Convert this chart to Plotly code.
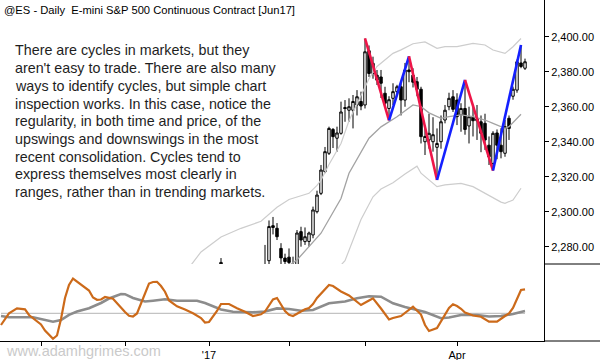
import pandas as pd
import plotly.graph_objects as go
from plotly.subplots import make_subplots

# ---------------- calendar (trading sessions) ----------------
HOLIDAYS = ["2016-11-24", "2016-12-26", "2017-01-02", "2017-01-16", "2017-02-20", "2017-04-14"]
sessions = [d.strftime("%Y-%m-%d") for d in pd.bdate_range("2016-10-18", "2017-04-27")
            if d.strftime("%Y-%m-%d") not in HOLIDAYS]

# ---------------- daily OHLC (visible part of chart) ----------------
bar_dates = ["2017-01-06", "2017-01-24", "2017-01-25", "2017-01-26", "2017-01-27", "2017-01-30",
             "2017-01-31", "2017-02-01", "2017-02-02", "2017-02-03", "2017-02-06", "2017-02-07",
             "2017-02-08", "2017-02-09", "2017-02-10", "2017-02-13", "2017-02-14", "2017-02-15",
             "2017-02-16", "2017-02-17", "2017-02-21", "2017-02-22", "2017-02-23", "2017-02-24",
             "2017-02-27", "2017-02-28", "2017-03-01", "2017-03-02", "2017-03-03", "2017-03-06",
             "2017-03-07", "2017-03-08", "2017-03-09", "2017-03-10", "2017-03-13", "2017-03-14",
             "2017-03-15", "2017-03-16", "2017-03-17", "2017-03-20", "2017-03-21", "2017-03-22",
             "2017-03-23", "2017-03-24", "2017-03-27", "2017-03-28", "2017-03-29", "2017-03-30",
             "2017-03-31", "2017-04-03", "2017-04-04", "2017-04-05", "2017-04-06", "2017-04-07",
             "2017-04-10", "2017-04-11", "2017-04-12", "2017-04-13", "2017-04-17", "2017-04-18",
             "2017-04-19", "2017-04-20", "2017-04-21", "2017-04-24", "2017-04-25", "2017-04-26",
             "2017-04-27"]
opens = [2262, 2262, 2272, 2292, 2290.5, 2279, 2273.5, 2274, 2266, 2269, 2288.6, 2282.9,
         2283, 2286.7, 2300, 2310.5, 2322.9, 2333.4, 2347, 2342, 2344.8, 2359.5, 2358, 2358,
         2361, 2363, 2361, 2392, 2379, 2378, 2377, 2367.7, 2359, 2364.8, 2368.6, 2371.4,
         2363.8, 2381, 2378, 2374.3, 2370, 2340, 2341, 2340, 2336.8, 2340, 2352.4, 2360,
         2365.7, 2363.8, 2355.3, 2359, 2349, 2354, 2352, 2351.4, 2350.5, 2338, 2327.6, 2345,
         2338, 2333.4, 2353.4, 2366, 2369.5, 2385, 2382]
highs = [2273.5, 2281, 2295, 2297, 2293.5, 2282, 2276, 2279, 2274.3, 2289.5, 2291.4, 2291,
         2288.6, 2302.9, 2312, 2326.7, 2337, 2348.6, 2347.8, 2348.6, 2362.9, 2363.8, 2364.8, 2366.7,
         2369.5, 2368.6, 2399, 2395, 2388.6, 2381, 2381, 2371.4, 2366, 2373.4, 2372.5, 2373.4,
         2385, 2388.8, 2382, 2377, 2371.4, 2347.6, 2356, 2354, 2347.6, 2355, 2361, 2368,
         2369.5, 2367.7, 2362, 2375.3, 2360, 2360, 2361, 2355, 2356, 2343, 2346, 2347,
         2347.7, 2352.4, 2355, 2371.5, 2387, 2395.3, 2387.5]
lows = [2258, 2258, 2270, 2287, 2283.8, 2266, 2262, 2266, 2260, 2265, 2280, 2281,
        2280, 2284.8, 2299, 2309.5, 2322, 2332.4, 2336.4, 2334.3, 2344, 2351.4, 2351.4, 2347.6,
        2355, 2358, 2359, 2377, 2376, 2372.4, 2365, 2360, 2352.2, 2361, 2366, 2355,
        2360, 2374, 2371, 2366, 2339, 2332.4, 2336, 2334.3, 2318.1, 2336, 2350.5, 2358,
        2357, 2349.5, 2345.7, 2344, 2339, 2343, 2341, 2334, 2335.3, 2326.7, 2323.5, 2330,
        2330.5, 2331.4, 2341, 2364, 2368, 2382, 2381]
closes = [2271, 2268, 2291.5, 2291, 2285.7, 2273.6, 2271.5, 2271, 2269, 2287.8, 2283.8, 2285.7,
          2287.8, 2301, 2309.5, 2323.8, 2334.3, 2347.6, 2342.9, 2345, 2357, 2359, 2360, 2363,
          2365.7, 2360.4, 2391.4, 2379, 2384.8, 2375.2, 2373.4, 2362, 2364, 2368.6, 2371.4, 2363.8,
          2381, 2380, 2374, 2370, 2342.9, 2343, 2344.8, 2344, 2339, 2351.4, 2358, 2364.8,
          2358.5, 2354.3, 2359, 2347, 2354.3, 2352, 2353, 2344.8, 2341, 2331.4, 2344.8, 2338,
          2334.3, 2348.6, 2347.6, 2370, 2385.7, 2383, 2385.7]

# ---------------- envelope lines ----------------
upper_dates = ["2016-12-23", "2016-12-29", "2017-01-06", "2017-01-13", "2017-01-23", "2017-01-27",
               "2017-02-01", "2017-02-06", "2017-02-08", "2017-02-10", "2017-02-13", "2017-02-15",
               "2017-02-21", "2017-02-23", "2017-02-28", "2017-03-02", "2017-03-06", "2017-03-10",
               "2017-03-14", "2017-03-17", "2017-03-22", "2017-03-27", "2017-03-29", "2017-04-03",
               "2017-04-07", "2017-04-12", "2017-04-17", "2017-04-20", "2017-04-24", "2017-04-26"]
upper_band = [2268, 2277, 2285.5, 2290.5, 2294.5, 2302.5, 2307, 2309, 2310.5, 2315, 2318, 2327,
              2339, 2352, 2367, 2376, 2383, 2390.5, 2392.5, 2396, 2397, 2393.4, 2394.3, 2394.3,
              2396.2, 2395.3, 2392.4, 2390.5, 2394.3, 2399]
mid_dates = ["2017-01-30", "2017-02-03", "2017-02-13", "2017-02-21", "2017-02-23", "2017-02-28",
             "2017-03-02", "2017-03-07", "2017-03-13", "2017-03-17", "2017-03-21", "2017-03-23",
             "2017-03-28", "2017-03-30", "2017-04-04", "2017-04-07", "2017-04-12", "2017-04-17",
             "2017-04-20", "2017-04-21", "2017-04-25", "2017-04-26"]
mid_line = [2266, 2272.4, 2287.7, 2307.5, 2322, 2334, 2342, 2348.5, 2354.3, 2361, 2360, 2356.5,
            2353.3, 2354.3, 2355.3, 2354.3, 2352.4, 2350.5, 2347.6, 2348.6, 2353.3, 2355.7]
lower_dates = ["2017-02-15", "2017-02-22", "2017-02-28", "2017-03-03", "2017-03-07", "2017-03-10",
               "2017-03-15", "2017-03-20", "2017-03-21", "2017-03-27", "2017-03-29", "2017-04-04",
               "2017-04-07", "2017-04-12", "2017-04-19", "2017-04-20", "2017-04-24", "2017-04-26"]
lower_band = [2262, 2272, 2295.5, 2308.5, 2313, 2316.5, 2321.5, 2326, 2322, 2314.3, 2315.3, 2316.2,
              2314.3, 2310.5, 2305.5, 2304.8, 2306.7, 2313.4]

# ---------------- swing points (alternating high / low) ----------------
swing_dates = ["2017-03-01", "2017-03-09", "2017-03-16", "2017-03-27", "2017-04-05", "2017-04-17", "2017-04-26"]

# ---------------- lower panel oscillator ----------------
osc_dates = ["2016-10-18", "2016-10-20", "2016-10-24", "2016-10-26", "2016-10-27", "2016-10-31",
             "2016-11-01", "2016-11-02", "2016-11-03", "2016-11-04", "2016-11-07", "2016-11-08",
             "2016-11-09", "2016-11-10", "2016-11-11", "2016-11-14", "2016-11-15", "2016-11-17",
             "2016-11-18", "2016-11-21", "2016-11-22", "2016-11-23", "2016-11-28", "2016-11-29",
             "2016-12-01", "2016-12-02", "2016-12-05", "2016-12-06", "2016-12-07", "2016-12-08",
             "2016-12-09", "2016-12-12", "2016-12-13", "2016-12-14", "2016-12-15", "2016-12-16",
             "2016-12-20", "2016-12-22", "2016-12-27", "2016-12-29", "2016-12-30", "2017-01-03",
             "2017-01-04", "2017-01-05", "2017-01-06", "2017-01-10", "2017-01-12", "2017-01-17",
             "2017-01-19", "2017-01-23", "2017-01-24", "2017-01-25", "2017-01-26", "2017-01-27",
             "2017-01-30", "2017-01-31", "2017-02-01", "2017-02-02", "2017-02-06", "2017-02-07",
             "2017-02-08", "2017-02-09", "2017-02-10", "2017-02-13", "2017-02-14", "2017-02-15",
             "2017-02-16", "2017-02-21", "2017-02-23", "2017-02-28", "2017-03-02", "2017-03-03",
             "2017-03-07", "2017-03-09", "2017-03-10", "2017-03-13", "2017-03-14", "2017-03-17",
             "2017-03-21", "2017-03-22", "2017-03-23", "2017-03-27", "2017-03-28", "2017-03-30",
             "2017-03-31", "2017-04-03", "2017-04-04", "2017-04-05", "2017-04-07", "2017-04-11",
             "2017-04-13", "2017-04-18", "2017-04-20", "2017-04-21", "2017-04-24", "2017-04-25",
             "2017-04-26", "2017-04-27"]
osc_fast = [-11.7, 0, 5, 4, -1.7, -7.7,
            -11.2, -17.2, -21.2, -25.5, -22.2, -5.7,
            15.3, 28.3, 34.8, 31.8, 28.3, 22.8,
            15.8, 13.5, 13.8, 16.3, 14.5, 9.8,
            1.3, -2.5, -3.2, -0.2, 9.8, 20.3,
            29.8, 31.3, 31.5, 27.3, 21.6, 12.8,
            7, 3.8, 0, -4.7, -9.2, -8.7,
            -3.2, 2.3, 9.3, 9.3, 5, 1.6,
            -2.7, -1, 1.8, 7.3, 13.8, 15.3,
            8.8, 2.3, -1.5, -2.7, 1.8, 4,
            5.3, 9.3, 15.3, 19.3, 23.8, 28.3,
            27.3, 21.8, 17.8, 8.3, 12.8, 15,
            4.8, -6.2, -4.7, -3.7, -2.7, 6.6,
            -1.2, -11.7, -17.7, -14.7, -7.7, 5.3,
            9, 7.3, 4.5, 0.8, -2.2, -3.4,
            -8.4, -8.4, -2.7, -0.2, 5.3, 14.3,
            23.3, 24]
slow_dates = ["2016-10-18", "2016-10-20", "2016-10-28", "2016-11-02", "2016-11-04", "2016-11-08",
              "2016-11-10", "2016-11-14", "2016-11-17", "2016-11-22", "2016-11-25", "2016-11-30",
              "2016-12-01", "2016-12-05", "2016-12-08", "2016-12-12", "2016-12-15", "2016-12-20",
              "2016-12-28", "2016-12-30", "2017-01-06", "2017-01-11", "2017-01-19", "2017-01-24",
              "2017-01-27", "2017-02-01", "2017-02-06", "2017-02-09", "2017-02-15", "2017-02-22",
              "2017-02-27", "2017-03-02", "2017-03-07", "2017-03-10", "2017-03-15", "2017-03-22",
              "2017-03-28", "2017-03-30", "2017-04-04", "2017-04-10", "2017-04-13", "2017-04-19",
              "2017-04-24", "2017-04-27"]
osc_slow = [-2.7, -4, -4, -6.2, -8.4, -6.7,
            -1.5, 1.8, 5, 10.3, 14.8, 19.3,
            19.1, 15.3, 11.8, 12.6, 14, 12.6,
            12.6, 10.3, 3.8, 1.6, 1, 1.8,
            4.9, 4.3, 2.5, 3.3, 10, 11.8,
            15, 17.1, 16.6, 10, 6.3, 1.3,
            -5, -4.2, -1.7, -1.7, -3.2, -2.7,
            -0.7, 2.3]

price_ticks = [2280, 2300, 2320, 2340, 2360, 2380, 2400]
month_ticks = ["2016-11-01", "2016-12-01", "2017-01-03", "2017-02-01", "2017-03-01", "2017-04-03"]
month_labels = ["", "", "'17", "", "", "Apr"]

title_text = "@ES - Daily\u00a0 E-mini S&P 500 Continuous Contract [Jun17]"
note_lines = [
    "There are cycles in markets, but they",
    "aren't easy to trade. There are also many",
    "ways to identify cycles, but simple chart",
    "inspection works. In this case, notice the",
    "regularity, in both time and price, of the",
    "upswings and downswings in the most",
    "recent consolidation. Cycles tend to",
    "express themselves most clearly in",
    "ranges, rather than in trending markets.",
]
watermark = "www.adamhgrimes.com"

# ---------------- layout geometry (pixels) ----------------
W, H = 600, 360
ML, MR, MT, MB = 0, 56, 0, 19
PW, PH = W - ML - MR, H - MT - MB
SPLIT = 264  # pixel row where price panel ends
split_frac = (PH - SPLIT) / PH


def py(pix):
    return (PH - pix) / PH


fig = make_subplots(rows=2, cols=1, shared_xaxes=True, vertical_spacing=0)

band_col = "#cdcdcd"
fig.add_trace(go.Scatter(x=upper_dates, y=upper_band, mode="lines",
                         line=dict(color=band_col, width=1.2), hoverinfo="skip"), row=1, col=1)
fig.add_trace(go.Scatter(x=lower_dates, y=lower_band, mode="lines",
                         line=dict(color=band_col, width=1.2), hoverinfo="skip"), row=1, col=1)
fig.add_trace(go.Scatter(x=mid_dates, y=mid_line, mode="lines",
                         line=dict(color="#a3a3a3", width=1.3), hoverinfo="skip"), row=1, col=1)

fig.add_trace(go.Candlestick(
    x=bar_dates, open=opens, high=highs, low=lows, close=closes,
    increasing=dict(line=dict(color="black", width=1), fillcolor="white"),
    decreasing=dict(line=dict(color="black", width=1), fillcolor="black"),
    whiskerwidth=0), row=1, col=1)

# zigzag from swing highs / lows
hi_map = dict(zip(bar_dates, highs))
lo_map = dict(zip(bar_dates, lows))
swing_prices = [hi_map[d] if i % 2 == 0 else lo_map[d] for i, d in enumerate(swing_dates)]
for i in range(len(swing_dates) - 1):
    down = swing_prices[i + 1] < swing_prices[i]
    fig.add_trace(go.Scatter(x=swing_dates[i:i + 2], y=swing_prices[i:i + 2], mode="lines",
                             line=dict(color="#ee1548" if down else "#1420ff", width=2.6),
                             hoverinfo="skip"), row=1, col=1)

# lower panel
fig.add_trace(go.Scatter(x=[sessions[0], sessions[-1]], y=[0, 0], mode="lines",
                         line=dict(color="#b4b4b4", width=1), hoverinfo="skip"), row=2, col=1)
fig.add_trace(go.Scatter(x=slow_dates, y=osc_slow, mode="lines",
                         line=dict(color="#8c8c8c", width=2.6), hoverinfo="skip"), row=2, col=1)
fig.add_trace(go.Scatter(x=osc_dates, y=osc_fast, mode="lines",
                         line=dict(color="#cc6a1a", width=2.2), hoverinfo="skip"), row=2, col=1)

axis_font = dict(family="Liberation Sans, Arial, sans-serif", size=11, color="black")

fig.update_xaxes(type="category", categoryorder="array", categoryarray=sessions,
                 range=[-0.25, 135.75], showgrid=False, zeroline=False,
                 rangeslider_visible=False, fixedrange=True)
fig.update_xaxes(showticklabels=False, ticks="", showline=False, row=1, col=1)
fig.update_xaxes(showline=True, linecolor="black", linewidth=1, ticks="outside", ticklen=4,
                 tickcolor="black", tickvals=month_ticks, ticktext=month_labels,
                 tickfont=axis_font, row=2, col=1)

fig.update_yaxes(side="right", showgrid=False, zeroline=False, showline=True,
                 linecolor="black", linewidth=1, fixedrange=True)
fig.update_yaxes(domain=[split_frac, 1], range=[2270.1, 2421.0], tickvals=price_ticks,
                 tickformat=",.2f", ticks="outside", ticklen=4, tickcolor="black",
                 tickfont=axis_font, row=1, col=1)
fig.update_yaxes(domain=[0, split_frac], range=[-27.7, 49.3], showticklabels=False,
                 ticks="", row=2, col=1)

xr = W / PW  # paper coordinate of right edge of the image
fig.add_shape(type="line", xref="paper", yref="paper", x0=1, x1=xr, y0=split_frac, y1=split_frac,
              line=dict(color="black", width=1))
fig.add_shape(type="line", xref="paper", yref="paper", x0=1, x1=xr, y0=0, y1=0,
              line=dict(color="black", width=1))

text_font = "Liberation Sans, Arial, sans-serif"
fig.add_annotation(xref="paper", yref="paper", x=2 / PW, y=py(10), xanchor="left", yanchor="middle",
                   text=title_text, showarrow=False,
                   font=dict(family=text_font, size=11.2, color="black"))
for i, line in enumerate(note_lines):
    fig.add_annotation(xref="paper", yref="paper", x=13 / PW, y=py(50.5 + 17.7 * i),
                       xanchor="left", yanchor="middle", text=line, showarrow=False,
                       font=dict(family=text_font, size=14.3, color="#1e1e1e"))
fig.add_annotation(xref="paper", yref="paper", x=4 / PW, y=py(351), xanchor="left",
                   yanchor="middle", text=watermark, showarrow=False,
                   font=dict(family=text_font, size=14.5, color="#cacaca"))

fig.update_layout(width=W, height=H, margin=dict(l=ML, r=MR, t=MT, b=MB, pad=0),
                  paper_bgcolor="white", plot_bgcolor="white", showlegend=False,
                  hovermode=False, boxgap=0.12)

fig.write_html("out.html", config={"displayModeBar": False, "staticPlot": True},
               post_script="document.body.style.margin='0';document.body.style.padding='0';")
